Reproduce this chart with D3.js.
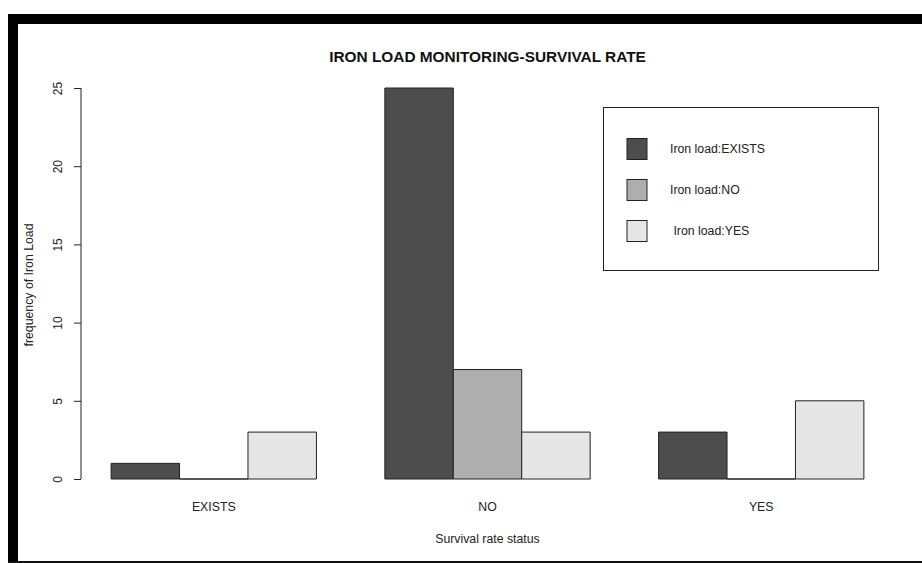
<!DOCTYPE html>
<html>
<head>
<meta charset="utf-8">
<script src="https://cdn.jsdelivr.net/npm/d3@7"></script>
<style>
  body { margin: 0; background: #fff; }
  svg { display: block; font-family: "Liberation Sans", Arial, sans-serif; }
</style>
</head>
<body>
<div id="chart"></div>
<script>
// survival rate status on the x axis, iron load as the grouped series
var categories = ["EXISTS", "NO", "YES"];
var series = ["Iron load:EXISTS", "Iron load:NO", " Iron load:YES"];
var valuesExists = [1, 25, 3];
var valuesNo = [0, 7, 0];
var valuesYes = [3, 3, 5];
var yTicks = [0, 5, 10, 15, 20, 25];
var fills = ["#4d4d4d", "#aeaeae", "#e6e6e6"];

var seriesValues = [valuesExists, valuesNo, valuesYes];
var width = 922, height = 563;

var svg = d3.select("#chart").append("svg")
    .attr("width", width)
    .attr("height", height);

// window frame
svg.append("rect").attr("x", 8).attr("y", 14).attr("width", width - 8).attr("height", 10).style("fill", "#000");
svg.append("rect").attr("x", 8).attr("y", 14).attr("width", 10).attr("height", height - 14).style("fill", "#000");
svg.append("rect").attr("x", 8).attr("y", 561).attr("width", width - 8).attr("height", 2).style("fill", "#111");

// R style barplot: bar width 1, space 1 before each group, 4% axis padding
var nSeries = series.length;
var lo = 1, hi = 1 + categories.length * (nSeries + 1) - 1;
var pad = (hi - lo) * 0.04;
var x = d3.scaleLinear().domain([lo - pad, hi + pad]).range([81, 894]);
var y = d3.scaleLinear().domain([0, 25]).range([479, 88]);

var bars = [];
categories.forEach(function(c, g) {
  seriesValues.forEach(function(vals, s) {
    bars.push({ cat: c, s: s, value: vals[g], start: lo + g * (nSeries + 1) + s });
  });
});

// paths so that zero-height bars still show as a flat line
svg.append("g").selectAll("path")
  .data(bars)
  .enter().append("path")
    .attr("d", function(d) {
      var x0 = x(d.start), x1 = x(d.start + 1), y0 = y(0), y1 = y(d.value);
      return "M" + x0 + "," + y0 + "H" + x1 + "V" + y1 + "H" + x0 + "Z";
    })
    .style("fill", function(d) { return fills[d.s]; })
    .style("stroke", "#222")
    .style("stroke-width", 1);

// y axis
var yAxis = svg.append("g")
    .attr("transform", "translate(81,0)")
    .call(d3.axisLeft(y).tickValues(yTicks).tickSize(7).tickPadding(0).tickFormat(d3.format("d")));
yAxis.select(".domain").attr("d", "M0," + y(0) + "V" + y(25)).style("stroke", "#222");
yAxis.selectAll(".tick line").style("stroke", "#222");
yAxis.selectAll(".tick text")
    .attr("transform", "translate(-23,0) rotate(-90)")
    .attr("x", 0).attr("dy", "0.35em")
    .style("text-anchor", "middle")
    .style("font-size", "12px")
    .style("fill", "#222")
    .style("font-family", "Liberation Sans, Arial, sans-serif");

// category labels
svg.append("g").selectAll("text")
  .data(categories)
  .enter().append("text")
    .attr("x", function(d, g) { return x(lo + g * (nSeries + 1) + nSeries / 2); })
    .attr("y", 511)
    .attr("text-anchor", "middle")
    .style("font-size", "12.3px")
    .style("fill", "#222")
    .text(function(d) { return d; });

// titles
svg.append("text")
    .attr("x", 487.5).attr("y", 62)
    .attr("text-anchor", "middle")
    .style("font-size", "15.4px").style("font-weight", "bold").style("fill", "#111")
    .text("IRON LOAD MONITORING-SURVIVAL RATE");

svg.append("text")
    .attr("x", 487.5).attr("y", 543)
    .attr("text-anchor", "middle")
    .style("font-size", "12.3px").style("fill", "#222")
    .text("Survival rate status");

svg.append("text")
    .attr("transform", "translate(33,285) rotate(-90)")
    .attr("text-anchor", "middle")
    .style("font-size", "12.3px").style("fill", "#222")
    .text("frequency of Iron Load");

// legend
var legend = svg.append("g");
legend.append("rect")
    .attr("x", 603.5).attr("y", 107.5).attr("width", 275).attr("height", 163)
    .style("fill", "#fff").style("stroke", "#222");
var item = legend.selectAll(".item")
  .data(series)
  .enter().append("g")
    .attr("class", "item")
    .attr("transform", function(d, i) { return "translate(0," + (149 + i * 41) + ")"; });
item.append("rect")
    .attr("x", 627).attr("y", -10.5).attr("width", 20).attr("height", 21)
    .style("fill", function(d, i) { return fills[i]; })
    .style("stroke", "#222");
item.append("text")
    .attr("x", 670).attr("dy", "0.35em")
    .style("font-size", "12.3px").style("fill", "#222")
    .style("white-space", "pre")
    .text(function(d) { return d; });
</script>
</body>
</html>
